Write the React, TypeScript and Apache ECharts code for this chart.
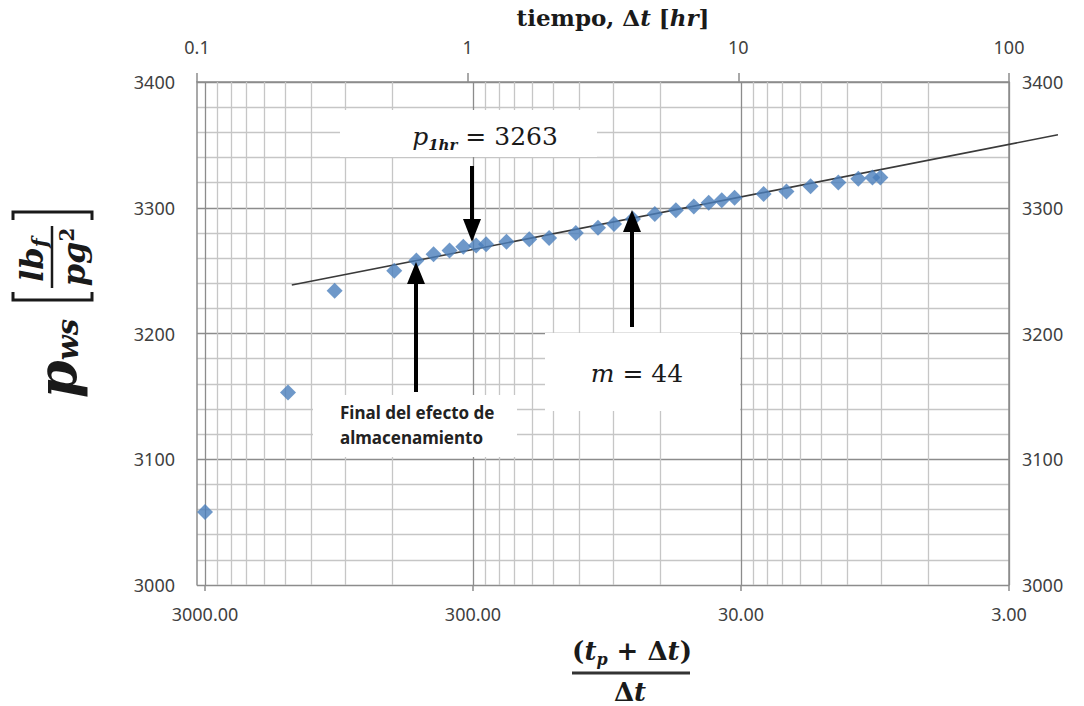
import React, { useEffect, useRef } from "react";
import * as echarts from "echarts";

// Horner ratio (tp + Δt)/Δt and shut-in pressure pws [psi]
const hornerRatio = [
  3000, 1470, 985, 590, 488, 421, 367, 326, 292, 268, 225, 185, 156, 124, 102.5,
  89.3, 75.9, 62.9, 52.5, 45, 39.6, 35.4, 31.7, 24.7, 20.3, 16.5, 13.0, 10.95, 9.7, 9.06,
];
const pws = [
  3058, 3153, 3234, 3250, 3258, 3263, 3266, 3269, 3270, 3271, 3273, 3275, 3276, 3280, 3284,
  3287, 3291, 3295, 3298, 3301, 3304, 3306, 3308, 3311, 3313, 3317, 3320, 3323, 3324, 3324,
];
// semilog straight line (end points)
const lineRatio = [1423, 1.97];
const linePws = [3238.6, 3358];

// axes
const bottomMajor = [3, 30, 300, 3000];
const minorMultipliers = [2, 3, 4, 5, 6, 7, 8, 9];
const yMin = 3000;
const yMax = 3400;
const yStep = 100;

const NUM_FONT = "'Noto Sans', sans-serif";
const MATH_FONT = "'DejaVu Serif', serif";
const INK = "#1a1a1a";
const MAJOR = "#8c8c8c";
const MINOR = "#c6c6c6";
const LABEL = "#3f3f3f";

// plot geometry (px)
const PLOT_LEFT = 205;
const FRAME_LEFT = 197;
const PLOT_RIGHT = 75;
const PLOT_TOP = 82;
const PLOT_BOTTOM = 121;
const LINE_EXTRA_PX = 52; // the fitted line runs past the right frame

export default function App() {
  const ref = useRef<HTMLDivElement>(null);
  useEffect(() => {
    const chart = echarts.init(ref.current!, null, { renderer: "svg" });

    const minorX: number[] = [];
    for (let i = 0; i < bottomMajor.length - 1; i++) {
      for (const k of minorMultipliers) minorX.push(bottomMajor[i] * k);
    }
    const xMin = bottomMajor[0];
    const xMax = bottomMajor[bottomMajor.length - 1];
    const decadeMax = Math.log10(xMax / xMin);
    const plotWidth = 1084 - PLOT_LEFT - PLOT_RIGHT;
    // extended (same scale) axis for the fitted line
    const lineAxisMin = xMin / Math.pow(10, (decadeMax * LINE_EXTRA_PX) / plotWidth);

    const ta = (a: string, v: string) => ({ align: a, textAlign: a, verticalAlign: v, textVerticalAlign: v });
    const mf = (size: number, extra: any = {}) => ({
      fontSize: size,
      fontFamily: MATH_FONT,
      fill: INK,
      ...extra,
    });

    const graphic: any[] = [
      // p1hr annotation
      { type: "rect", z: 100, shape: { x: 340, y: 110, width: 257, height: 47 }, style: { fill: "#ffffff" } },
      {
        type: "text", z: 101, x: 485, y: 136,
        style: {
          text: "{i|p}{s|1hr}{n| = 3263}", ...ta("center", "middle"),
          rich: {
            i: mf(25, { fontStyle: "italic" }),
            s: mf(15, { fontStyle: "italic", fontWeight: "bold", padding: [18, 0, 0, 0] }),
            n: mf(25),
          },
        },
      },
      { type: "line", z: 102, shape: { x1: 472, y1: 166, x2: 472, y2: 222 }, style: { stroke: "#000", lineWidth: 4 } },
      { type: "polygon", z: 102, shape: { points: [[463, 219], [481, 219], [472, 242]] }, style: { fill: "#000" } },

      // end of storage annotation
      { type: "rect", z: 100, shape: { x: 313, y: 395, width: 204, height: 62 }, style: { fill: "#ffffff" } },
      {
        type: "text", z: 101, x: 340, y: 400,
        style: {
          text: "Final del efecto de\nalmacenamiento", ...ta("left", "top"),
          fontSize: 17, fontWeight: "bold", fontFamily: NUM_FONT, lineHeight: 25, fill: "#222",
        },
      },
      { type: "line", z: 102, shape: { x1: 416, y1: 392, x2: 416, y2: 280 }, style: { stroke: "#000", lineWidth: 4 } },
      { type: "polygon", z: 102, shape: { points: [[407, 284], [425, 284], [416, 262]] }, style: { fill: "#000" } },

      // slope annotation
      { type: "rect", z: 100, shape: { x: 545, y: 333, width: 195, height: 78 }, style: { fill: "#ffffff" } },
      {
        type: "text", z: 101, x: 637, y: 373,
        style: {
          text: "{i|m}{n| = 44}", ...ta("center", "middle"),
          rich: { i: mf(25, { fontStyle: "italic" }), n: mf(25) },
        },
      },
      { type: "line", z: 102, shape: { x1: 632, y1: 327, x2: 632, y2: 228 }, style: { stroke: "#000", lineWidth: 4 } },
      { type: "polygon", z: 102, shape: { points: [[623, 232], [641, 232], [632, 210]] }, style: { fill: "#000" } },

      // top title
      {
        type: "text", z: 101, x: 613, y: 17,
        style: {
          text: "{a|tiempo, }{a|Δ}{i|t}{a| [}{i|hr}{a|]}", ...ta("center", "middle"),
          rich: {
            a: mf(23, { fontWeight: "bold" }),
            i: mf(23, { fontWeight: "bold", fontStyle: "italic" }),
          },
        },
      },

      // bottom title (fraction)
      {
        type: "text", z: 101, x: 632, y: 651,
        style: {
          text: "{a|(}{i|t}{s|p}{a| + Δ}{i|t}{a|)}", ...ta("center", "middle"),
          rich: {
            a: mf(26, { fontWeight: "bold" }),
            i: mf(26, { fontWeight: "bold", fontStyle: "italic" }),
            s: mf(16, { fontWeight: "bold", fontStyle: "italic", padding: [16, 0, 0, 0] }),
          },
        },
      },
      { type: "line", z: 101, shape: { x1: 572, y1: 673, x2: 690, y2: 673 }, style: { stroke: "#333", lineWidth: 3 } },
      {
        type: "text", z: 101, x: 630, y: 692,
        style: {
          text: "{a|Δ}{i|t}", ...ta("center", "middle"),
          rich: {
            a: mf(26, { fontWeight: "bold" }),
            i: mf(26, { fontWeight: "bold", fontStyle: "italic" }),
          },
        },
      },

      // y title (rotated)
      {
        type: "group", x: 62, y: 300, rotation: Math.PI / 2,
        children: [
          {
            type: "text", z: 101, x: -98, y: -5,
            style: {
              text: "{p|p}{s|ws}", ...ta("left", "middle"),
              rich: {
                p: mf(54, { fontWeight: "bold", fontStyle: "italic" }),
                s: mf(29, { fontWeight: "bold", fontStyle: "italic", padding: [22, 0, 0, 0] }),
              },
            },
          },
          { type: "polyline", z: 101, shape: { points: [[8, -49], [0, -49], [0, 30], [8, 30]] }, style: { stroke: INK, lineWidth: 3, fill: "none" } },
          { type: "polyline", z: 101, shape: { points: [[80, -49], [88, -49], [88, 30], [80, 30]] }, style: { stroke: INK, lineWidth: 3, fill: "none" } },
          { type: "line", z: 101, shape: { x1: 12, y1: -10, x2: 74, y2: -10 }, style: { stroke: INK, lineWidth: 2.5 } },
          {
            type: "text", z: 101, x: 40, y: -30,
            style: {
              text: "{a|lb}{f|f}", ...ta("center", "middle"),
              rich: {
                a: mf(32, { fontWeight: "bold", fontStyle: "italic" }),
                f: mf(21, { fontWeight: "bold", fontStyle: "italic", padding: [14, 0, 0, 0] }),
              },
            },
          },
          {
            type: "text", z: 101, x: 43, y: 12,
            style: {
              text: "{a|pg}{s|2}", ...ta("center", "middle"),
              rich: {
                a: mf(32, { fontWeight: "bold", fontStyle: "italic" }),
                s: mf(20, { fontWeight: "bold", padding: [0, 0, 14, 0] }),
              },
            },
          },
        ],
      },
    ];

    const labelStyle = { fontSize: 18, color: LABEL, fontFamily: NUM_FONT };
    const plainNum = (v: number) => String(v);

    const option: any = {
      animation: false,
      backgroundColor: "#ffffff",
      grid: [
        { left: PLOT_LEFT, right: PLOT_RIGHT, top: PLOT_TOP, bottom: PLOT_BOTTOM },
        { left: FRAME_LEFT, right: PLOT_RIGHT, top: PLOT_TOP, bottom: PLOT_BOTTOM },
        { left: PLOT_LEFT, right: PLOT_RIGHT - LINE_EXTRA_PX, top: PLOT_TOP, bottom: PLOT_BOTTOM },
      ],
      xAxis: [
        { type: "log", logBase: 10, gridIndex: 0, min: xMin, max: xMax, inverse: true, show: false },
        {
          type: "log", logBase: 10, gridIndex: 1, position: "top", min: 0.1, max: 100,
          axisLine: { show: true, lineStyle: { color: MAJOR, width: 1.5 } },
          axisTick: { show: true, length: 9, lineStyle: { color: MAJOR, width: 1.5 } },
          axisLabel: { ...labelStyle, margin: 26, formatter: (v: number) => String(+Number(v).toPrecision(6)) },
          splitLine: { show: false },
          minorTick: { show: false },
        },
        {
          // decade axis (log10 of ratio/3) used only for bottom ticks & labels
          type: "value", gridIndex: 0, position: "bottom", min: 0, max: decadeMax, interval: 1, inverse: true,
          axisLine: { show: false },
          axisTick: { show: true, length: 6, lineStyle: { color: MAJOR, width: 1.5 } },
          axisLabel: { ...labelStyle, margin: 20, formatter: (v: number) => (xMin * Math.pow(10, v)).toFixed(2) },
          splitLine: { show: false },
        },
        // same scale, extended past the frame, for the fitted line
        { type: "log", logBase: 10, gridIndex: 2, min: lineAxisMin, max: xMax, inverse: true, show: false },
      ],
      yAxis: [
        { type: "value", gridIndex: 0, min: yMin, max: yMax, show: false },
        {
          type: "value", gridIndex: 1, position: "left", min: yMin, max: yMax, interval: yStep,
          axisLine: { show: true, lineStyle: { color: MAJOR, width: 1.5 } },
          axisTick: { show: false },
          axisLabel: { ...labelStyle, margin: 22, formatter: plainNum },
          splitLine: { show: true, lineStyle: { color: MAJOR, width: 1.3 } },
          minorTick: { show: false, splitNumber: 5 },
          minorSplitLine: { show: true, lineStyle: { color: MINOR, width: 1.3 } },
        },
        {
          type: "value", gridIndex: 1, position: "right", min: yMin, max: yMax, interval: yStep,
          axisLine: { show: true, lineStyle: { color: MAJOR, width: 1.5 } },
          axisTick: { show: false },
          axisLabel: { ...labelStyle, margin: 13, formatter: plainNum },
          splitLine: { show: false },
        },
        { type: "value", gridIndex: 2, min: yMin, max: yMax, show: false },
      ],
      series: [
        {
          type: "line", xAxisIndex: 0, yAxisIndex: 0, data: [], z: 1, silent: true,
          markLine: {
            silent: true, symbol: ["none", "none"], label: { show: false }, animation: false,
            lineStyle: { type: "solid", width: 1.3, color: MINOR },
            emphasis: { disabled: true },
            data: [
              ...minorX.map((v) => ({ xAxis: v })),
              ...bottomMajor.map((v) => ({ xAxis: v, lineStyle: { color: MAJOR, width: 1.3, type: "solid" } })),
            ],
          },
        },
        {
          type: "line", xAxisIndex: 3, yAxisIndex: 3, z: 9, clip: false, silent: true,
          showSymbol: false, symbol: "none",
          lineStyle: { color: "#3a3a3a", width: 1.6 },
          data: lineRatio.map((r, i) => [r, linePws[i]]),
        },
        {
          type: "scatter", xAxisIndex: 0, yAxisIndex: 0, z: 10, silent: true,
          symbol: "diamond", symbolSize: 16,
          itemStyle: { color: "#4a7ebb" },
          data: hornerRatio.map((r, i) => [r, pws[i]]),
        },
      ],
      graphic: { elements: graphic },
    };

    chart.setOption(option);
    return () => chart.dispose();
  }, []);

  return (
    <div
      ref={ref}
      style={{ position: "fixed", left: 0, top: 0, width: 1084, height: 706, background: "#fff" }}
    />
  );
}
